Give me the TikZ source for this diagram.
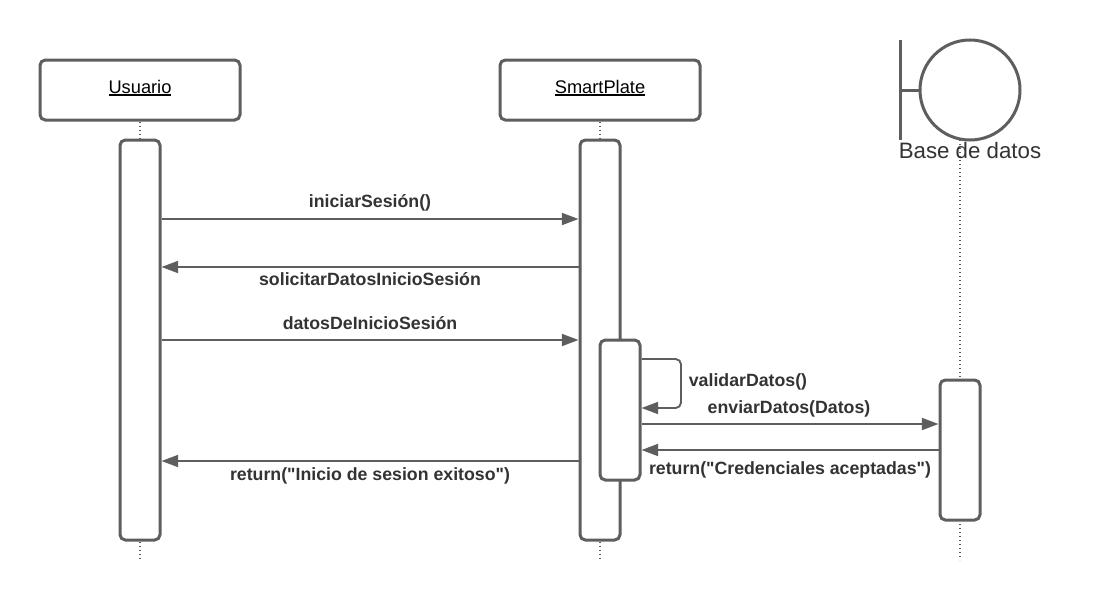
\documentclass[tikz,border=0pt]{standalone}
\usepackage{fontspec}
\setmainfont{Liberation Sans}[Ligatures=TeXOff]
\usetikzlibrary{arrows.meta}
\definecolor{linegray}{HTML}{5E5E5E}
\definecolor{textgray}{HTML}{333333}
\newcommand{\headtext}[1]{\raisebox{-2.25pt}[0pt][0pt]{\setbox0=\hbox{#1}\rlap{\rule[-2.2pt]{\wd0}{1.2pt}}\box0}}
\tikzset{
  x=0.75pt,y=-0.75pt,
  box/.style={draw=linegray,line width=2.25pt,rounded corners=4pt,fill=white,inner sep=0pt,text=black,font=\fontsize{13.7}{16}\selectfont},
  head/.style={box,minimum width=150pt,minimum height=45pt},
  lifeline/.style={draw=linegray,line width=1pt,dotted},
  msg/.style={draw=linegray,line width=1.4pt,-{Triangle[length=12.5pt,width=9pt]}},
  lbl/.style={inner sep=0pt,text=textgray,font=\fontsize{13.3}{15}\selectfont\bfseries},
  bnd/.style={draw=linegray,line width=2.25pt}
}
\begin{document}
\begin{tikzpicture}
\useasboundingbox[fill=white] (0,0) rectangle (1100,600);
% head boxes
\node[head] (usuario) at (140,90) {\headtext{Usuario}};
\node[head] (smart) at (600,90) {\headtext{SmartPlate}};
% boundary symbol
\node[draw=linegray,line width=2.25pt,circle,minimum size=75pt,inner sep=0pt,fill=white] (bd) at (970,90) {};
\coordinate (bdtop) at (900,40);
\coordinate (bdbot) at (900,140);
\coordinate (lineDB) at (960,140);
\coordinate (endU) at (140,560);
\coordinate (endS) at (600,560);
\coordinate (endD) at (960,560);
% lifelines
\draw[lifeline] (usuario.south) -- (endU);
\draw[lifeline] (smart.south) -- (endS);
\draw[lifeline] (lineDB) -- (endD);
\draw[bnd] (bdtop) -- (bdbot);
\draw[bnd] (bd.west) -- (bd.west -| bdtop);
\node[inner sep=0pt,text=textgray,font=\fontsize{16.7}{20}\selectfont] (bdlabel) at (970,151) {Base de datos};
% activation bars
\node[box,minimum width=30pt,minimum height=300pt] (barU) at (140,340) {};
\node[box,minimum width=30pt,minimum height=300pt] (barS) at (600,340) {};
\node[box,minimum width=30pt,minimum height=105pt] (barI) at (620,410) {};
\node[box,minimum width=30pt,minimum height=105pt] (barD) at (960,450) {};
% messages
\draw[msg] (barU.east |- 0,219) -- (barS.west |- 0,219);
\draw[msg] (barS.west |- 0,267) -- (barU.east |- 0,267);
\draw[msg] (barU.east |- 0,340) -- (barS.west |- 0,340);
\draw[msg,rounded corners=4pt] (barI.east |- 0,359) -- (681,359) -- (681,408) -- (barI.east |- 0,408);
\draw[msg] (barI.east |- 0,424) -- (barD.west |- 0,424);
\draw[msg] (barD.west |- 0,450) -- (barI.east |- 0,450);
\draw[msg] (barS.west |- 0,461) -- (barU.east |- 0,461);
% labels
\node[lbl] (l1) at (370,202.5) {iniciarSesión()};
\node[lbl] (l2) at (370,279) {solicitarDatosInicioSesión};
\node[lbl] (l3) at (370,323) {datosDeInicioSesión};
\node[lbl] (l4) at (748,381.5) {validarDatos()};
\node[lbl] (l5) at (789,408.5) {enviarDatos(Datos)};
\node[lbl] (l6) at (790,469.5) {return("Credenciales aceptadas")};
\node[lbl] (l7) at (370,475.5) {return("Inicio de sesion exitoso")};
\end{tikzpicture}
\end{document}
